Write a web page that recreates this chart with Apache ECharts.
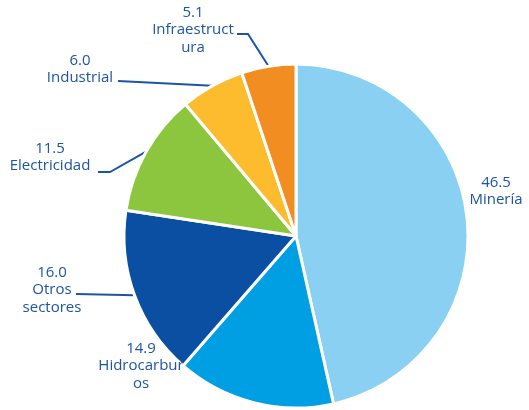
<!DOCTYPE html>
<html>
<head>
<meta charset="utf-8">
<script src="https://cdn.jsdelivr.net/npm/echarts@6/dist/echarts.min.js"></script>
<style>
  html, body { margin: 0; padding: 0; background: #ffffff; }
  #chart { width: 529px; height: 410px; }
</style>
</head>
<body>
<div id="chart"></div>
<script>
// Share by sector (%), clockwise from 12 o'clock
const categories = ['Minería', 'Hidrocarburos', 'Otros sectores', 'Electricidad', 'Industrial', 'Infraestructura'];
const values = [46.5, 14.9, 16.0, 11.5, 6.0, 5.1];
// Wrapped name text as printed beside each slice
const labelNames = ['Minería', 'Hidrocarbur\nos', 'Otros\nsectores', 'Electricidad', 'Industrial', 'Infraestruct\nura'];

const sliceColors = ['#8ad0f2', '#009fe3', '#0a4fa2', '#8cc63f', '#fdbc2e', '#f28d21'];
const textColor = '#1d55a4';

// Label anchor (centre of text block) and elbow of the leader line, per slice
const labelPlacement = [
  { x: 496, y: 191, line: null },
  { x: 141, y: 366, line: null },
  { x: 52,  y: 290, line: [[76, 294]] },
  { x: 50,  y: 157, line: [[110, 172], [98, 172]] },
  { x: 80,  y: 69,  line: [[118, 81]] },
  { x: 193, y: 30,  line: [[248, 34], [237, 34]] }
];

const chart = echarts.init(document.getElementById('chart'), null, { renderer: 'canvas' });

chart.setOption({
  backgroundColor: '#ffffff',
  animation: false,
  series: [{
    type: 'pie',
    center: [296, 236],
    radius: 172,
    startAngle: 90,
    clockwise: true,
    avoidLabelOverlap: false,
    itemStyle: { borderColor: '#ffffff', borderWidth: 3 },
    label: {
      show: true,
      position: 'outside',
      color: textColor,
      fontFamily: 'Open Sans',
      fontSize: 15,
      lineHeight: 17.5,
      align: 'center'
    },
    labelLine: {
      show: true,
      length: 10,
      length2: 10,
      smooth: false,
      lineStyle: { color: textColor, width: 2 }
    },
    labelLayout: function (params) {
      const p = labelPlacement[params.dataIndex];
      const out = { x: p.x, y: p.y, align: 'center', verticalAlign: 'middle' };
      if (p.line && params.labelLinePoints) {
        out.labelLinePoints = [params.labelLinePoints[0]].concat(p.line);
      }
      return out;
    },
    data: categories.map(function (name, i) {
      return {
        name: name,
        value: values[i],
        itemStyle: { color: sliceColors[i] },
        label: { formatter: values[i].toFixed(1) + '\n' + labelNames[i] },
        labelLine: { show: labelPlacement[i].line !== null }
      };
    })
  }]
});
</script>
</body>
</html>
